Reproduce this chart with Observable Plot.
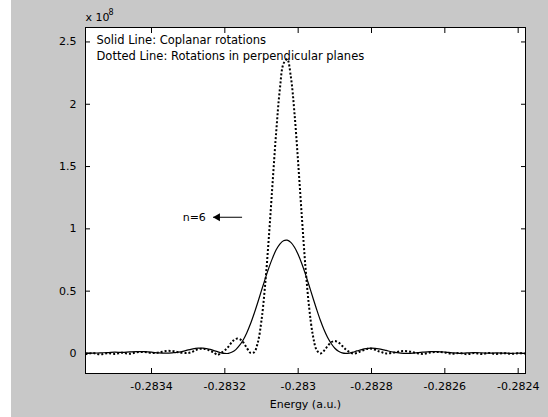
<!DOCTYPE html>
<html><head><meta charset="utf-8">
<script src="https://cdn.jsdelivr.net/npm/d3@7"></script>
<script src="https://cdn.jsdelivr.net/npm/@observablehq/plot@0.6"></script>
<style>html,body{margin:0;padding:0;background:#fff;}</style>
</head><body><div id="chart"></div>
<script>
// Energy (a.u.)
const energy = [
  -0.28358,-0.28356,-0.28354,-0.28352,-0.28350,-0.28348,-0.28346,-0.28344,-0.28342,-0.28340,-0.28338,-0.28336,-0.28334,-0.28332,
  -0.28330,-0.28329,-0.28328,-0.28327,-0.28326,-0.28325,-0.28324,-0.28323,-0.28322,-0.28321,
  -0.28320,-0.28319,-0.28318,-0.28317,-0.28316,-0.28315,-0.28314,-0.28313,-0.28312,-0.28311,
  -0.28310,-0.28309,-0.28308,-0.28307,-0.28306,-0.28305,-0.28304,-0.28303,-0.28302,-0.28301,
  -0.28300,-0.28299,-0.28298,-0.28297,-0.28296,-0.28295,-0.28294,-0.28293,-0.28292,-0.28291,
  -0.28290,-0.28289,-0.28288,-0.28287,-0.28286,-0.28285,-0.28284,-0.28283,-0.28282,-0.28281,
  -0.28280,-0.28279,-0.28278,-0.28277,-0.28276,
  -0.28274,-0.28272,-0.28270,-0.28268,-0.28266,-0.28264,-0.28262,-0.28260,-0.28258,-0.28256,
  -0.28254,-0.28252,-0.28250,-0.28248,-0.28246,-0.28244,-0.28242,-0.28240,-0.28238
];
// Solid line: coplanar rotations (x 10^8)
const solid = [
  0.004,0.002,0.005,0.006,0.010,0.008,0.012,0.015,0.014,0.010,0.004,0.002,0.006,0.012,
  0.028,0.035,0.041,0.042,0.042,0.038,0.032,0.023,0.014,0.005,
  0.000,0.001,0.011,0.031,0.064,0.108,0.167,0.238,0.321,0.411,
  0.506,0.599,0.687,0.765,0.832,0.878,0.905,0.909,0.891,0.852,
  0.794,0.720,0.635,0.543,0.449,0.357,0.270,0.194,0.130,0.080,
  0.042,0.018,0.004,0.000,0.003,0.010,0.020,0.028,0.036,0.041,
  0.042,0.041,0.037,0.031,0.024,
  0.010,0.002,0.000,0.005,0.010,0.014,0.015,0.011,0.005,0.001,
  0.004,0.007,0.005,0.002,0.004,0.003,0.001,0.002,0.001
];
// Dotted line: rotations in perpendicular planes (x 10^8)
const dotted = [
  -0.006,0.003,-0.008,0.002,-0.004,0.006,-0.003,0.010,0.012,0.004,0.008,0.020,0.018,0.006,
  0.004,0.012,0.026,0.036,0.038,0.033,0.021,0.008,-0.012,0.005,
  0.025,0.055,0.094,0.117,0.116,0.090,0.044,0.005,0.010,0.088,
  0.266,0.553,0.930,1.358,1.775,2.119,2.326,2.362,2.221,1.926,
  1.529,1.098,0.690,0.367,0.147,0.030,0.000,0.020,0.058,0.090,
  0.099,0.088,0.061,0.032,0.011,0.000,0.004,0.017,0.028,0.038,
  0.038,0.030,0.017,0.008,0.000,
  0.006,0.018,0.017,0.005,-0.004,0.007,0.012,0.008,-0.003,0.004,
  -0.006,0.003,-0.005,0.004,-0.004,0.002,-0.003,0.001,0.000
];
const xTicks = [-0.2834,-0.2832,-0.283,-0.2828,-0.2826,-0.2824];
const yTicks = [0,0.5,1,1.5,2,2.5];
const legendLines = ["Solid Line: Coplanar rotations","Dotted Line: Rotations in perpendicular planes"];
const exponentBase = "x 10";
const exponentPower = "8";
const xLabel = "Energy (a.u.)";
const noteText = [{x:-0.283315, y:1.093, text:"n=6"}];
const noteArrow = [{x1:-0.283153, x2:-0.283232, y:1.093}];

const rows = energy.map((e,i)=>({e, s:solid[i], d:dotted[i]}));
const fmtX = d => String(+d.toFixed(4));
const fmtY = d => String(d);

const chart = Plot.plot({
  width:548, height:417,
  marginLeft:85, marginRight:23, marginTop:27, marginBottom:44,
  style:{background:"linear-gradient(to right,#ffffff 0px,#ffffff 11px,#c8c8c8 11px)", fontFamily:"'DejaVu Sans', sans-serif", fontSize:"11px", color:"#000", overflow:"visible"},
  x:{domain:[-0.28358,-0.28238]},
  y:{domain:[-0.161,2.616]},
  marks:[
    Plot.frame({fill:"white", stroke:null}),
    Plot.line(rows,{x:"e", y:"d", stroke:"black", strokeWidth:2, strokeDasharray:"2,2", strokeLinecap:"butt", strokeLinejoin:"miter", curve:"catmull-rom", clip:true}),
    Plot.line(rows,{x:"e", y:"s", stroke:"black", strokeWidth:1.2, curve:"catmull-rom", clip:true}),
    Plot.axisX(xTicks,{anchor:"bottom", tickSize:5, dy:-5, fill:"none", label:null}),
    Plot.axisX(xTicks,{anchor:"top", tickSize:5, dy:5, fill:"none", label:null}),
    Plot.axisY(yTicks,{anchor:"left", tickSize:5, dx:5, fill:"none", label:null}),
    Plot.axisY(yTicks,{anchor:"right", tickSize:5, dx:-5, fill:"none", label:null}),
    Plot.axisX(xTicks,{anchor:"bottom", tickSize:0, tickPadding:9, tickFormat:fmtX, label:null, fontSize:11}),
    Plot.axisY(yTicks,{anchor:"left", tickSize:0, tickPadding:9, tickFormat:fmtY, label:null, fontSize:11}),
    Plot.frame({stroke:"black"}),
    Plot.text([xLabel],{frameAnchor:"bottom", dy:31, lineAnchor:"middle", fontSize:11}),
    Plot.text([exponentBase],{frameAnchor:"top-left", dx:0, dy:-10, textAnchor:"start", lineAnchor:"middle", fontSize:11}),
    Plot.text([exponentPower],{frameAnchor:"top-left", dx:23, dy:-15, textAnchor:"start", lineAnchor:"middle", fontSize:8}),
    Plot.text([legendLines.join("\n")],{frameAnchor:"top-left", dx:11, dy:5, textAnchor:"start", lineAnchor:"top", lineHeight:16/11.5, fontSize:11.5}),
    Plot.text(noteText,{x:"x", y:"y", text:"text", textAnchor:"start", lineAnchor:"middle", fontSize:11, fill:"black"}),
    Plot.link(noteArrow,{x1:"x1", x2:"x2", y1:"y", y2:"y", stroke:"black", strokeWidth:1}),
    Plot.dot(noteArrow,{x:"x2", y:"y", symbol:"triangle", r:3, fill:"black", stroke:null, rotate:-90, dx:4.5})
  ]
});
document.getElementById("chart").appendChild(chart);
</script>
</body></html>
